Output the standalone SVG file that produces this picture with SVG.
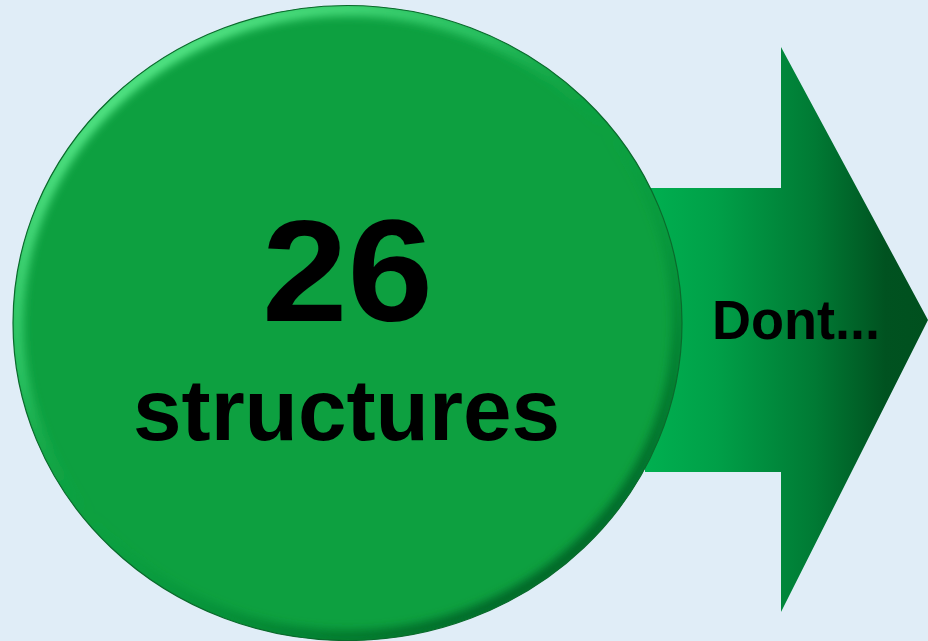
<svg xmlns="http://www.w3.org/2000/svg" width="928" height="641" viewBox="0 0 928 641">
  <style>
    .lbl { font-family: "Liberation Sans", Arial, sans-serif; font-weight: bold; fill: #000; }
  </style>
  <defs>
    <linearGradient id="arrowGrad" x1="645" y1="0" x2="928" y2="0" gradientUnits="userSpaceOnUse">
      <stop offset="0" stop-color="#00b050"/>
      <stop offset="0.25" stop-color="#00a048"/>
      <stop offset="0.6" stop-color="#007a34"/>
      <stop offset="0.85" stop-color="#005220"/>
      <stop offset="1" stop-color="#00501e"/>
    </linearGradient>
    <linearGradient id="rimGrad" x1="0.15" y1="0.05" x2="0.85" y2="0.95">
      <stop offset="0" stop-color="#5ff090"/>
      <stop offset="0.3" stop-color="#30c868" stop-opacity="0.8"/>
      <stop offset="0.5" stop-color="#0da040" stop-opacity="0"/>
      <stop offset="0.8" stop-color="#067a2e" stop-opacity="0.8"/>
      <stop offset="1" stop-color="#045a22"/>
    </linearGradient>
    <clipPath id="circClip">
      <ellipse cx="347.5" cy="323" rx="334.5" ry="317.5"/>
    </clipPath>
    <filter id="blur" x="-10%" y="-10%" width="120%" height="120%">
      <feGaussianBlur stdDeviation="4"/>
    </filter>
  </defs>
  <rect width="928" height="641" fill="#e0edf7"/>

  <g id="connectors">
    <path d="M645 188 H781 V47 L928 320 L781 612 V472 H645 Z" fill="url(#arrowGrad)"/>
  </g>

  <g id="node-circle">
    <ellipse cx="347.5" cy="323" rx="334.5" ry="317.5" fill="#0da040"/>
    <g clip-path="url(#circClip)">
      <ellipse cx="347.5" cy="323" rx="331" ry="314" fill="none" stroke="url(#rimGrad)" stroke-width="14" filter="url(#blur)"/>
    </g>
    <ellipse cx="347.5" cy="323" rx="334.5" ry="317.5" fill="none" stroke="#0a6a2c" stroke-width="1.2"/>
    <text class="lbl" x="347.5" y="321" text-anchor="middle" font-size="145" textLength="171" lengthAdjust="spacingAndGlyphs">26</text>
    <text class="lbl" x="346.5" y="440" text-anchor="middle" font-size="88" textLength="427" lengthAdjust="spacingAndGlyphs">structures</text>
  </g>

  <g id="node-arrow-label">
    <text class="lbl" x="796" y="339" text-anchor="middle" font-size="55" textLength="168" lengthAdjust="spacingAndGlyphs">Dont...</text>
  </g>
</svg>
